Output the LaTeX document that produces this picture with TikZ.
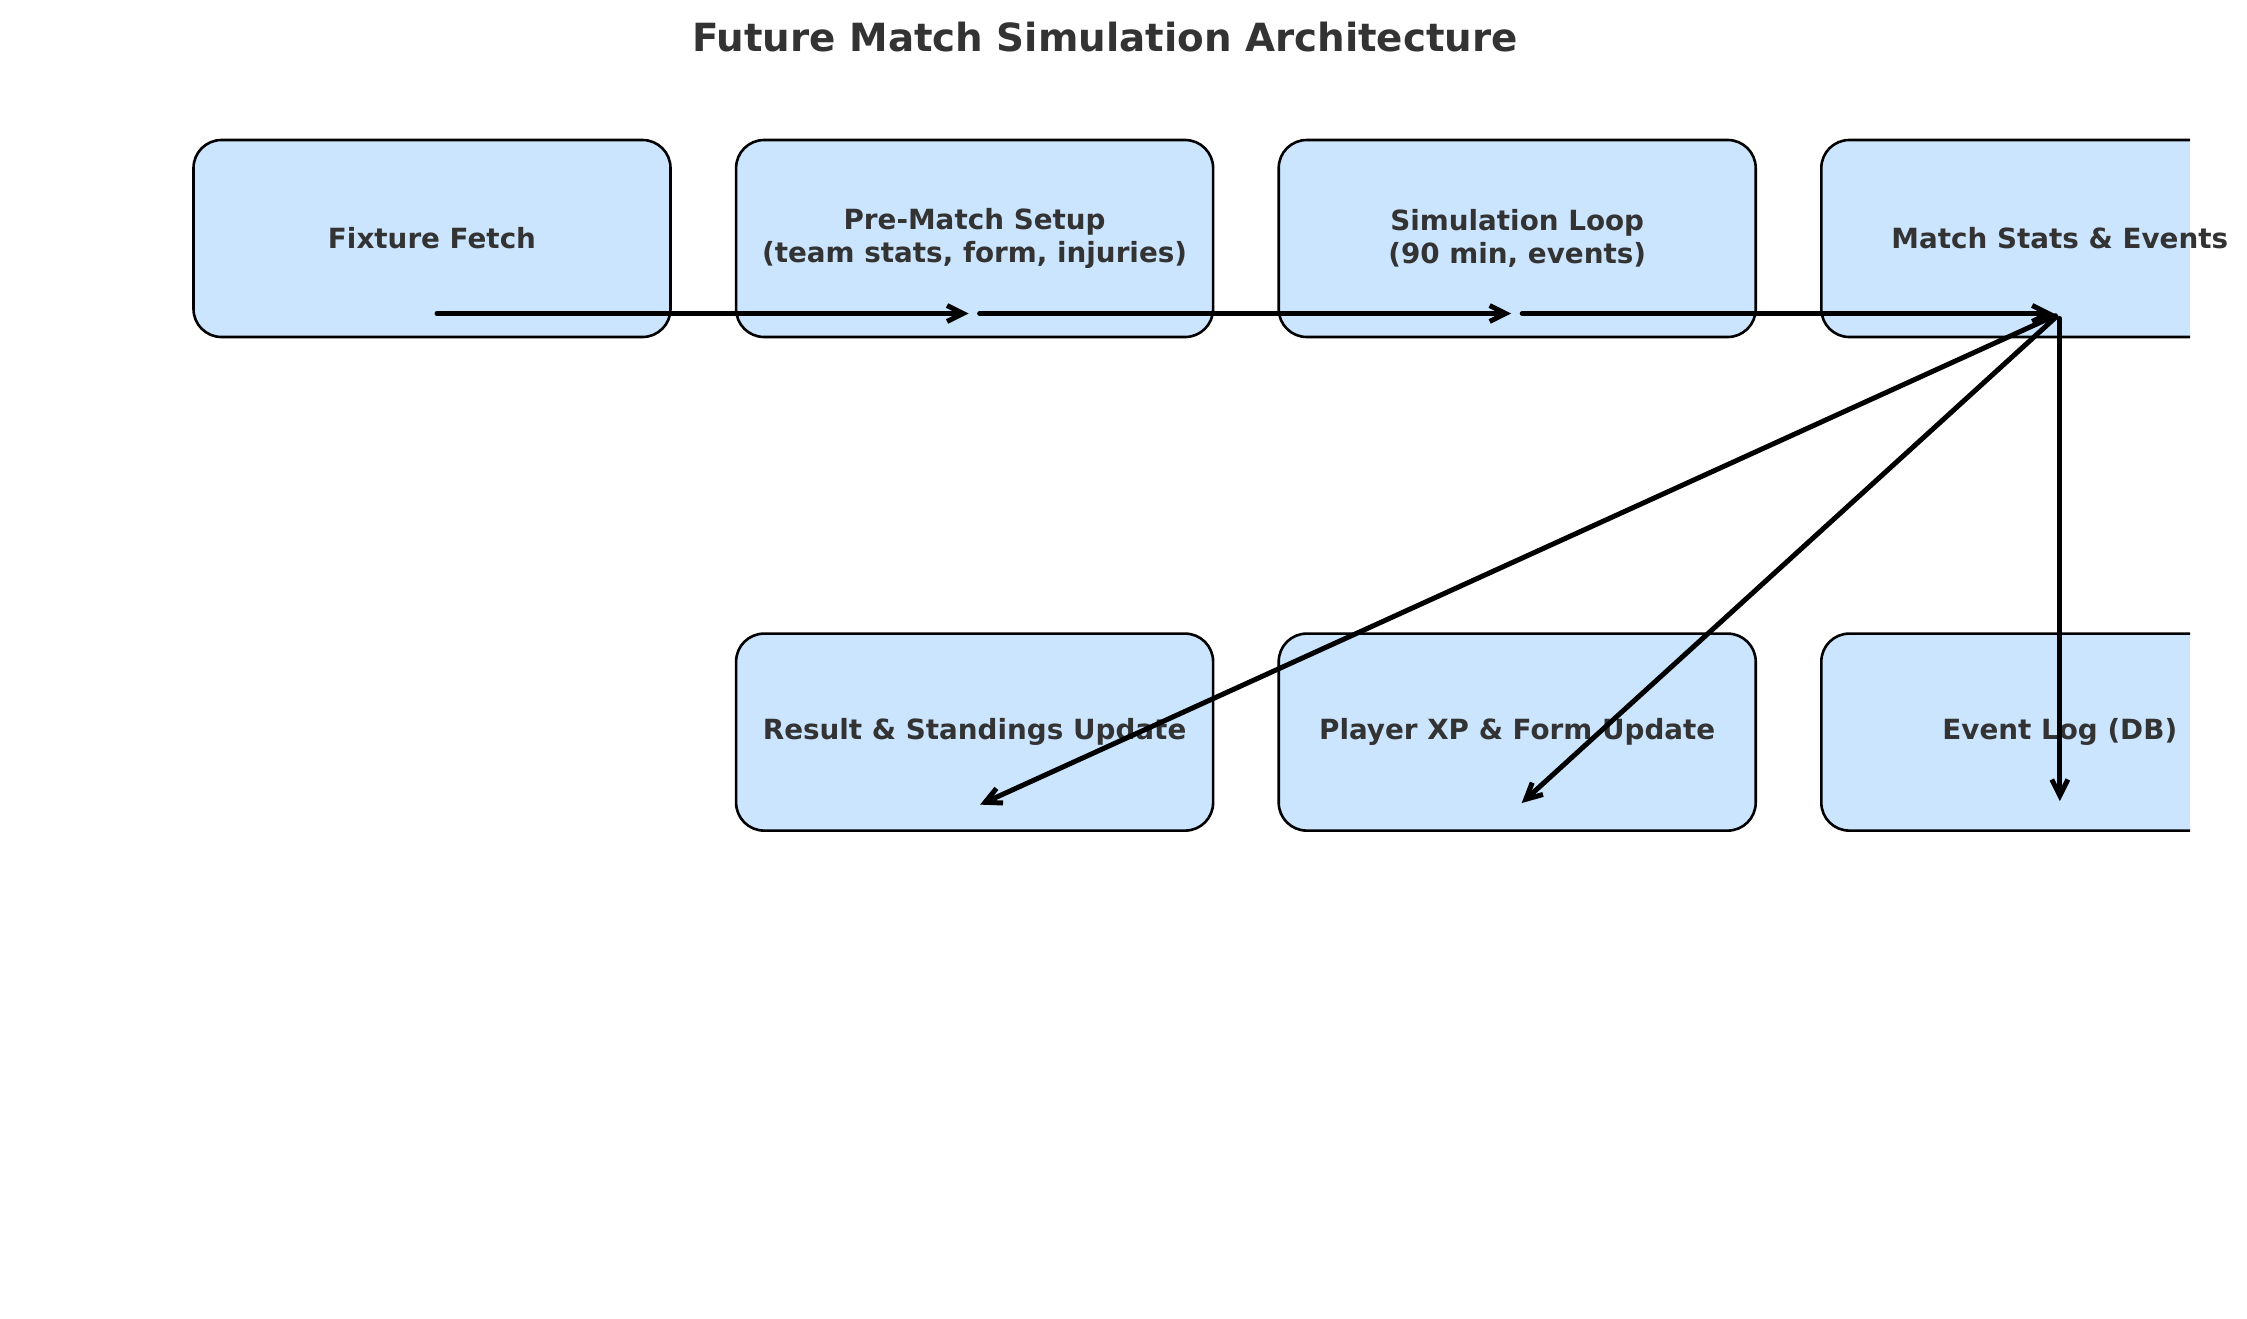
\documentclass[tikz,border=0pt]{standalone}
\usepackage{fontspec}
\setmainfont{DejaVu Sans}
\usepackage{tikz}
\usetikzlibrary{positioning}
\usetikzlibrary{arrows.meta}
\definecolor{boxblue}{HTML}{CCE5FF}
\definecolor{textgray}{HTML}{333333}

\begin{document}
\begin{tikzpicture}[x=0.5pt, y=-0.5pt, node distance=147pt and 31.5pt]

\tikzstyle{simbox}=[draw=black, line width=1.3pt, fill=boxblue, rounded corners=14pt,
minimum width=238.5pt, minimum height=98.5pt, inner sep=0pt]
\tikzstyle{simtext}=[align=center, text=textgray, font=\fontsize{13.9pt}{16.3pt}\selectfont\bfseries]
\tikzstyle{flow}=[line width=2.5pt, line cap=round,
-{Straight Barb[length=8pt, width=8pt, line width=2.5pt]}, shorten <=2.5pt, shorten >=3pt]

\useasboundingbox (0,0) rectangle (2247,1318);

\node[text=textgray, font=\fontsize{19.4pt}{23pt}\selectfont\bfseries] (title) at (1105,37)
{Future Match Simulation Architecture};

% boxes (the last column runs off the right edge)
\begin{scope}
\clip (0,0) rectangle (2190,1318);
\node[simbox] (fetch) at (432,238.5) {};
\node[simbox, right=of fetch] (setup) {};
\node[simbox, right=of setup] (loop) {};
\node[simbox, right=of loop] (stats) {};
\node[simbox, below=of setup] (result) {};
\node[simbox, below=of loop] (player) {};
\node[simbox, below=of stats] (eventlog) {};
\end{scope}

\node[simtext] (fetch text) at (fetch) {Fixture Fetch};
\node[simtext] (setup text) at (setup) {Pre-Match Setup\\(team stats, form, injuries)};
\node[simtext] (loop text) at (loop) {Simulation Loop\\(90 min, events)};
\node[simtext] (stats text) at (stats) {Match Stats \& Events};
\node[simtext] (result text) at (result) {Result \& Standings Update};
\node[simtext] (player text) at (player) {Player XP \& Form Update};
\node[simtext] (eventlog text) at (eventlog) {Event Log (DB)};

% arrow ends
\foreach \b in {fetch,setup,loop,stats,result,player,eventlog}
  \coordinate (\b-pt) at ([yshift=-37.5pt]\b.center);

\draw[flow] (fetch-pt) -- (setup-pt);
\draw[flow] (setup-pt) -- (loop-pt);
\draw[flow] (loop-pt) -- (stats-pt);
\foreach \b in {result,player,eventlog}
  \draw[flow] (stats-pt) -- (\b-pt);

\end{tikzpicture}
\end{document}
